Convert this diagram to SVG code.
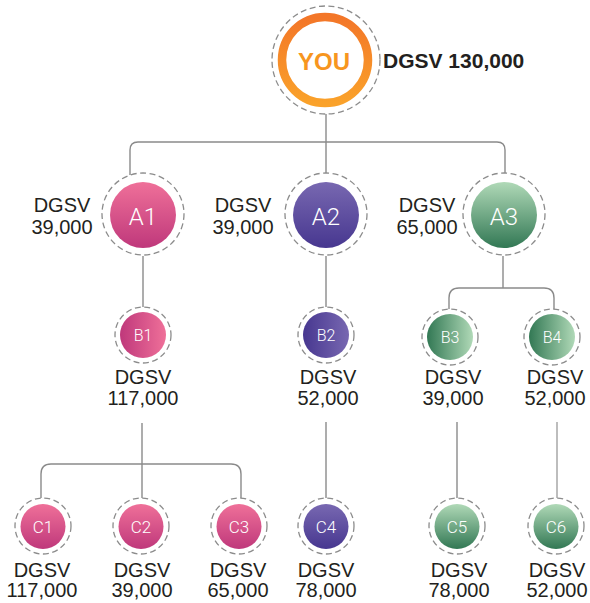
<svg xmlns="http://www.w3.org/2000/svg" width="590" height="603" viewBox="0 0 590 603">
<defs>
<linearGradient id="gOrange" x1="0" y1="0" x2="0" y2="1"><stop offset="0" stop-color="#f37628"/><stop offset="1" stop-color="#faa22a"/></linearGradient>
<linearGradient id="pinkV" x1="0" y1="0" x2="0" y2="1"><stop offset="0" stop-color="#ef7099"/><stop offset="1" stop-color="#bf387b"/></linearGradient>
<linearGradient id="purpleV" x1="0" y1="0" x2="0" y2="1"><stop offset="0" stop-color="#7868b1"/><stop offset="1" stop-color="#473790"/></linearGradient>
<linearGradient id="greenV" x1="0" y1="0" x2="0" y2="1"><stop offset="0" stop-color="#b0d9b7"/><stop offset="1" stop-color="#327854"/></linearGradient>
<linearGradient id="pinkH" x1="0" y1="0" x2="1" y2="0"><stop offset="0" stop-color="#bf387b"/><stop offset="1" stop-color="#ef7099"/></linearGradient>
<linearGradient id="purpleH" x1="0" y1="0" x2="1" y2="0"><stop offset="0" stop-color="#473790"/><stop offset="1" stop-color="#7868b1"/></linearGradient>
<linearGradient id="greenH" x1="0" y1="0" x2="1" y2="0"><stop offset="0" stop-color="#327854"/><stop offset="1" stop-color="#b0d9b7"/></linearGradient>
</defs>
<style>
.dash{fill:#fff;stroke:#8c8c8c;stroke-width:1.3;stroke-dasharray:6 3.5}
.conn{fill:none;stroke:#8a8a8a;stroke-width:1.4}
.lbl{font-family:"Liberation Sans",Arial,sans-serif;font-size:20px;fill:#231f20;text-anchor:middle}
.nA{font-family:Roboto,"Liberation Sans",sans-serif;font-weight:300;font-size:24px;fill:#fff;text-anchor:middle}
.nB{font-family:Roboto,"Liberation Sans",sans-serif;font-weight:300;font-size:16px;fill:#fff;text-anchor:middle}
.nC{font-family:Roboto,"Liberation Sans",sans-serif;font-weight:300;font-size:17px;fill:#fff;text-anchor:middle}
</style>
<rect width="590" height="603" fill="#fff"/>
<g id="connectors">
<path class="conn" d="M326 114 V173"/>
<path class="conn" d="M130 175 V150 Q130 142 138 142 H497 Q505 142 505 150 V173"/>
<path class="conn" d="M143 256 V307"/>
<path class="conn" d="M326 256 V307"/>
<path class="conn" d="M503 256 V288"/>
<path class="conn" d="M449 310 V298 Q449 288 459 288 H544 Q554 288 554 298 V310"/>
<path class="conn" d="M142 423 V498"/>
<path class="conn" d="M41 498 V474 Q41 464 51 464 H231 Q241 464 241 474 V498"/>
<path class="conn" d="M326 422 V498"/>
<path class="conn" d="M457 422 V498"/>
<path class="conn" d="M557 422 V498" style="stroke:#bdbdbd;stroke-width:2"/>
</g>
<g id="you">
<circle class="dash" cx="326" cy="60" r="54"/>
<circle cx="325" cy="60" r="43" fill="#fff" stroke="url(#gOrange)" stroke-width="8.5"/>
<text x="324" y="70" text-anchor="middle" font-family="'Liberation Sans',Arial,sans-serif" font-weight="bold" font-size="24" fill="#f7961f">YOU</text>
<text x="383" y="68" font-family="'Liberation Sans',Arial,sans-serif" font-weight="bold" font-size="21" fill="#231f20">DGSV 130,000</text>
</g>
<g id="A1">
<circle class="dash" cx="143" cy="214" r="41"/>
<circle cx="143" cy="215" r="33" fill="url(#pinkV)"/>
<text class="nA" x="143" y="225">A1</text>
<text class="lbl" x="62" y="212">DGSV</text><text class="lbl" x="62" y="234">39,000</text>
</g>
<g id="A2">
<circle class="dash" cx="326" cy="214" r="41"/>
<circle cx="326" cy="215" r="33" fill="url(#purpleV)"/>
<text class="nA" x="326" y="225">A2</text>
<text class="lbl" x="243" y="212">DGSV</text><text class="lbl" x="243" y="234">39,000</text>
</g>
<g id="A3">
<circle class="dash" cx="504" cy="214" r="41"/>
<circle cx="504" cy="215" r="33" fill="url(#greenV)"/>
<text class="nA" x="504" y="225">A3</text>
<text class="lbl" x="427" y="212">DGSV</text><text class="lbl" x="427" y="234">65,000</text>
</g>
<g id="B1">
<circle class="dash" cx="143" cy="335" r="28"/>
<circle cx="143" cy="335" r="23" fill="url(#pinkH)"/>
<text class="nB" x="143" y="341">B1</text>
<text class="lbl" x="143" y="384">DGSV</text><text class="lbl" x="143" y="405">117,000</text>
</g>
<g id="B2">
<circle class="dash" cx="326" cy="335" r="28"/>
<circle cx="326" cy="335" r="23" fill="url(#purpleH)"/>
<text class="nB" x="326" y="341">B2</text>
<text class="lbl" x="328" y="384">DGSV</text><text class="lbl" x="328" y="405">52,000</text>
</g>
<g id="B3">
<circle class="dash" cx="450" cy="337" r="28"/>
<circle cx="450" cy="337" r="23" fill="url(#greenH)"/>
<text class="nB" x="450" y="343">B3</text>
<text class="lbl" x="453" y="384">DGSV</text><text class="lbl" x="453" y="405">39,000</text>
</g>
<g id="B4">
<circle class="dash" cx="552" cy="337" r="28"/>
<circle cx="552" cy="337" r="23" fill="url(#greenH)"/>
<text class="nB" x="552" y="343">B4</text>
<text class="lbl" x="555" y="384">DGSV</text><text class="lbl" x="555" y="405">52,000</text>
</g>
<g id="C1">
<circle class="dash" cx="43" cy="526" r="28"/>
<circle cx="43" cy="526.5" r="22.5" fill="url(#pinkV)"/>
<text class="nC" x="43" y="533">C1</text>
<text class="lbl" x="42" y="577">DGSV</text><text class="lbl" x="42" y="597">117,000</text>
</g>
<g id="C2">
<circle class="dash" cx="141" cy="526" r="28"/>
<circle cx="141" cy="526.5" r="22.5" fill="url(#pinkV)"/>
<text class="nC" x="141" y="533">C2</text>
<text class="lbl" x="142" y="577">DGSV</text><text class="lbl" x="142" y="597">39,000</text>
</g>
<g id="C3">
<circle class="dash" cx="239" cy="526" r="28"/>
<circle cx="239" cy="526.5" r="22.5" fill="url(#pinkV)"/>
<text class="nC" x="239" y="533">C3</text>
<text class="lbl" x="238" y="577">DGSV</text><text class="lbl" x="238" y="597">65,000</text>
</g>
<g id="C4">
<circle class="dash" cx="326" cy="526" r="28"/>
<circle cx="326" cy="526.5" r="22.5" fill="url(#purpleV)"/>
<text class="nC" x="326" y="533">C4</text>
<text class="lbl" x="326" y="577">DGSV</text><text class="lbl" x="326" y="597">78,000</text>
</g>
<g id="C5">
<circle class="dash" cx="457" cy="526" r="28"/>
<circle cx="457" cy="526.5" r="22.5" fill="url(#greenV)"/>
<text class="nC" x="457" y="533">C5</text>
<text class="lbl" x="459" y="577">DGSV</text><text class="lbl" x="459" y="597">78,000</text>
</g>
<g id="C6">
<circle class="dash" cx="556" cy="526" r="28"/>
<circle cx="556" cy="526.5" r="22.5" fill="url(#greenV)"/>
<text class="nC" x="556" y="533">C6</text>
<text class="lbl" x="557" y="577">DGSV</text><text class="lbl" x="557" y="597">52,000</text>
</g>
</svg>
